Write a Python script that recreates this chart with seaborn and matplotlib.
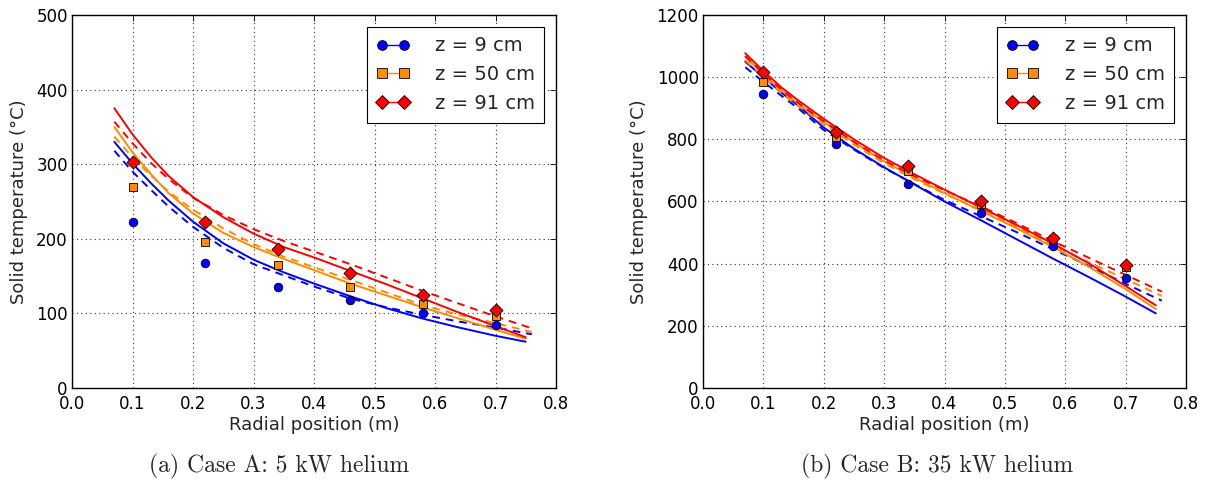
import matplotlib
matplotlib.use("Agg")
import matplotlib.pyplot as plt
from matplotlib.lines import Line2D
import seaborn as sns

# ---------------- data ----------------
r_exp = [0.10, 0.22, 0.34, 0.46, 0.58, 0.70]

# Case A (5 kW) measured
a_z9 = [222, 168, 136, 118, 100, 84]
a_z50 = [269, 196, 165, 136, 113, 97]
a_z91 = [303, 223, 186, 154, 124, 104]

# Case B (35 kW) measured
b_z9 = [946, 785, 655, 562, 457, 353]
b_z50 = [985, 808, 699, 592, 480, 390]
b_z91 = [1016, 825, 714, 600, 484, 396]

# model curves (solid / dashed)
r_solid = [0.07, 0.10, 0.13, 0.16, 0.20, 0.25, 0.30, 0.35, 0.40, 0.46, 0.52, 0.58, 0.64, 0.70, 0.75]
r_dash = [0.07, 0.10, 0.13, 0.16, 0.20, 0.25, 0.30, 0.35, 0.40, 0.46, 0.52, 0.58, 0.64, 0.70, 0.76]

a_z9_solid = [330, 301, 275, 251, 223, 194, 172, 155, 140, 123, 107, 93, 81, 70, 62]
a_z50_solid = [350, 316, 287, 261, 234, 208, 189, 173, 158, 140, 124, 108, 93, 78, 66]
a_z91_solid = [375, 340, 310, 284, 256, 229, 207, 189, 175, 157, 139, 120, 101, 83, 68]
a_z9_dash = [318, 290, 266, 243, 216, 188, 166, 151, 136, 120, 108, 98, 89, 81, 72]
a_z50_dash = [337, 309, 285, 263, 239, 214, 193, 176, 162, 145, 128, 111, 98, 87, 75]
a_z91_dash = [357, 328, 302, 280, 255, 232, 213, 197, 183, 166, 148, 130, 113, 96, 80]

b_z9_solid = [1050, 1000, 950, 905, 838, 770, 710, 655, 600, 540, 478, 416, 356, 294, 240]
b_z50_solid = [1066, 1010, 957, 911, 855, 790, 729, 677, 627, 570, 513, 453, 389, 318, 254]
b_z91_solid = [1077, 1020, 967, 922, 866, 800, 740, 688, 638, 581, 524, 464, 400, 328, 266]
b_z9_dash = [1032, 985, 940, 896, 830, 767, 708, 656, 605, 553, 501, 446, 392, 335, 281]
b_z50_dash = [1055, 1000, 950, 905, 848, 783, 723, 672, 625, 573, 518, 458, 404, 350, 296]
b_z91_dash = [1068, 1012, 960, 914, 858, 792, 732, 682, 636, 585, 530, 472, 418, 364, 310]

labels = ["z = 9 cm", "z = 50 cm", "z = 91 cm"]
colors = ["#0000ff", "#ff8c00", "#ff0000"]
markers = ["o", "s", "D"]
msizes = [38, 36, 44]

x_ticks = [0.0, 0.1, 0.2, 0.3, 0.4, 0.5, 0.6, 0.7, 0.8]
captions = ["(a) Case A: 5 kW helium", "(b) Case B: 35 kW helium"]

# ---------------- style ----------------
sns.set_style("white")
plt.rcParams.update({
    "font.family": ["DejaVu Sans"],
    "xtick.direction": "in",
    "ytick.direction": "in",
    "xtick.top": True,
    "ytick.right": True,
    "xtick.major.size": 4,
    "ytick.major.size": 4,
    "xtick.major.width": 0.6,
    "ytick.major.width": 0.6,
    "xtick.color": "black",
    "ytick.color": "black",
    "axes.edgecolor": "black",
    "axes.linewidth": 1.0,
    "xtick.labelsize": 12,
    "ytick.labelsize": 12,
    "xtick.major.pad": 5,
    "ytick.major.pad": 3,
})

fig = plt.figure(figsize=(12.05, 4.86), dpi=100)
ax1 = fig.add_axes([72 / 1205, 1 - 388 / 486, 484 / 1205, 373 / 486])
ax2 = fig.add_axes([703 / 1205, 1 - 388 / 486, 483 / 1205, 373 / 486])

cases = [
    (ax1, [a_z9, a_z50, a_z91], [a_z9_solid, a_z50_solid, a_z91_solid],
     [a_z9_dash, a_z50_dash, a_z91_dash], (0, 500), [0, 100, 200, 300, 400, 500]),
    (ax2, [b_z9, b_z50, b_z91], [b_z9_solid, b_z50_solid, b_z91_solid],
     [b_z9_dash, b_z50_dash, b_z91_dash], (0, 1200), [0, 200, 400, 600, 800, 1000, 1200]),
]

for ax, meas, solid, dash, ylim, yt in cases:
    for i in range(3):
        sns.lineplot(x=r_solid, y=solid[i], ax=ax, color=colors[i], lw=1.4,
                     estimator=None, sort=False, legend=False)
        sns.lineplot(x=r_dash, y=dash[i], ax=ax, color=colors[i], lw=1.4,
                     linestyle=(0, (4, 3)), estimator=None, sort=False, legend=False)
    for i in range(3):
        sns.scatterplot(x=r_exp, y=meas[i], ax=ax, color=colors[i], marker=markers[i],
                        s=msizes[i], edgecolor="black", linewidth=0.6, zorder=5, legend=False)
    ax.set_xlim(0, 0.8)
    ax.set_ylim(*ylim)
    ax.set_xticks(x_ticks)
    ax.set_xticklabels([f"{v:.1f}" for v in x_ticks])
    ax.set_yticks(yt)
    ax.grid(True, color="black", linestyle=(0, (1, 3)), linewidth=0.8, alpha=0.8)
    ax.set_xlabel("Radial position (m)", fontsize=13, labelpad=2)
    ax.set_ylabel("Solid temperature (\u00b0C)", fontsize=13, labelpad=6)
    for sp in ax.spines.values():
        sp.set_visible(True)
        sp.set_color("black")

    handles = [Line2D([0], [0], color=colors[i], marker=markers[i], markersize=7 if i != 2 else 7.5,
                      markeredgecolor="black", markeredgewidth=0.6, lw=1.0)
               for i in range(3)]
    leg = ax.legend(handles, labels, loc="upper right", fontsize=14, numpoints=2,
                    handlelength=1.7, labelspacing=0.5, borderaxespad=0.6,
                    fancybox=False, framealpha=1, edgecolor="black", handletextpad=1.3,
                    borderpad=0.5)
    leg.get_frame().set_linewidth(0.8)

fig.text(279 / 1205, 1 - 466 / 486, captions[0], ha="center", va="center",
         fontsize=17, family=["cmr10", "DejaVu Serif"])
fig.text(937 / 1205, 1 - 466 / 486, captions[1], ha="center", va="center",
         fontsize=17, family=["cmr10", "DejaVu Serif"])

fig.savefig("out.png", dpi=100)
